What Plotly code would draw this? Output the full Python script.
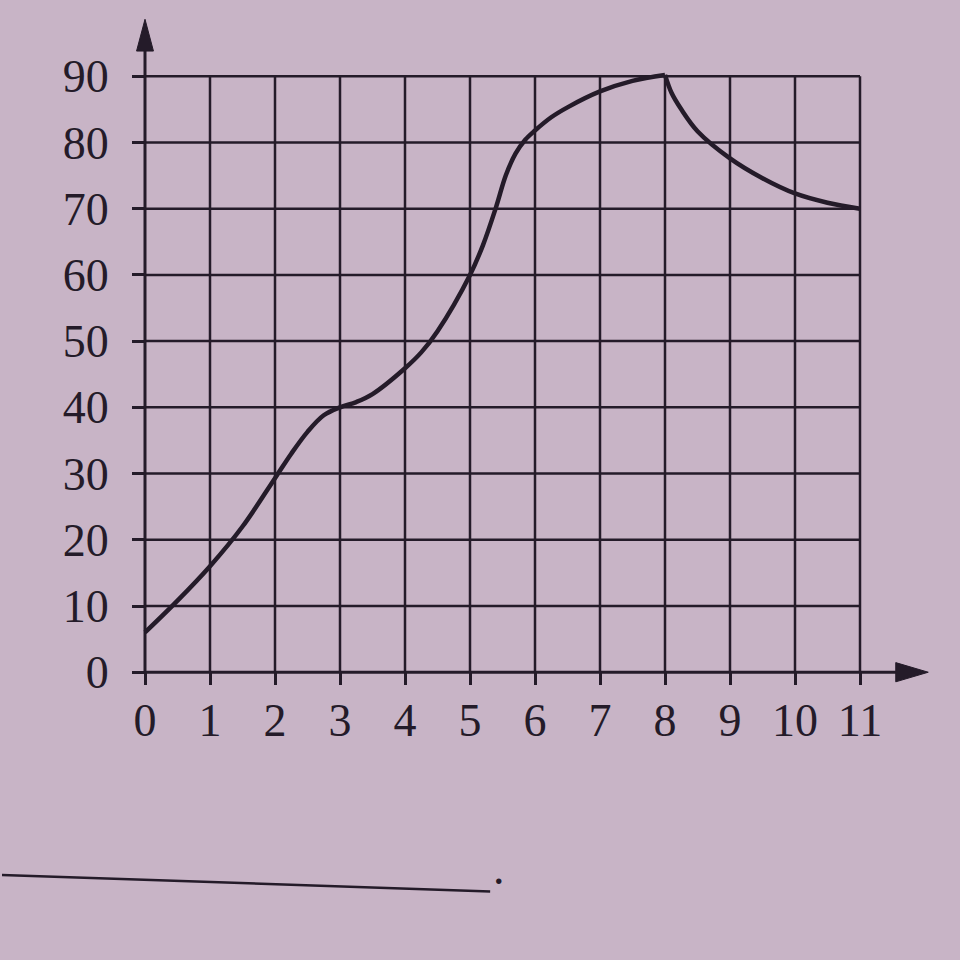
import plotly.graph_objects as go

# ---- data ----
x_rise = [0, 0.5, 1, 1.5, 2, 2.25, 2.5, 2.75, 3, 3.25, 3.5, 4, 4.25, 4.5, 5, 5.2, 5.4, 5.55, 5.7, 5.85, 6, 6.25, 6.5, 7, 7.5, 8]
y_rise = [6, 10.8, 16, 22, 29.3, 33, 36.3, 38.8, 40, 40.8, 42, 45.9, 48.3, 51.5, 60, 64.5, 70.2, 75.0, 78.3, 80.4, 81.8, 83.8, 85.3, 87.7, 89.3, 90.2]
x_fall = [8, 8.1, 8.25, 8.5, 9, 9.5, 10, 10.5, 11]
y_fall = [90.2, 87.5, 85.0, 81.7, 77.6, 74.6, 72.3, 70.9, 70]
x_ticks = list(range(0, 12))
y_ticks = list(range(0, 100, 10))
x_tick_labels = [str(v) for v in x_ticks]
y_tick_labels = [str(v) for v in y_ticks]

# ---- layout constants ----
X_RANGE = [-2.2, 12.4]
Y_RANGE = [-35, 100]
INK = "#241b29"
BG = "#c8b4c6"
FONT = "Liberation Serif"

fig = go.Figure()

fig.add_trace(go.Scatter(x=x_rise, y=y_rise, mode="lines", line=dict(color=INK, width=4.5, shape="spline", smoothing=1),
                         hoverinfo="skip", showlegend=False))
fig.add_trace(go.Scatter(x=x_fall, y=y_fall, mode="lines", line=dict(color=INK, width=4.5, shape="spline", smoothing=1),
                         hoverinfo="skip", showlegend=False))

shapes = []
xmax, ymax = x_ticks[-1], y_ticks[-1]
# grid
for xv in x_ticks[1:]:
    shapes.append(dict(type="line", x0=xv, x1=xv, y0=0, y1=ymax, line=dict(color=INK, width=2.5), layer="below"))
for yv in y_ticks[1:]:
    shapes.append(dict(type="line", x0=0, x1=xmax, y0=yv, y1=yv, line=dict(color=INK, width=2.5), layer="below"))
# axes with arrows
y_tip = 98.6
x_tip = 12.05
shapes.append(dict(type="line", x0=0, x1=0, y0=0, y1=y_tip - 3, line=dict(color=INK, width=3)))
shapes.append(dict(type="line", x0=0, x1=x_tip - 0.3, y0=0, y1=0, line=dict(color=INK, width=3)))
shapes.append(dict(type="path", path=f"M -0.13 {y_tip-4.8} L 0 {y_tip} L 0.13 {y_tip-4.8} Z",
                   fillcolor=INK, line=dict(color=INK, width=1)))
shapes.append(dict(type="path", path=f"M {x_tip-0.5} 1.45 L {x_tip} 0 L {x_tip-0.5} -1.45 Z",
                   fillcolor=INK, line=dict(color=INK, width=1)))
# answer line at the bottom
shapes.append(dict(type="line", x0=-2.25, x1=5.31, y0=-30.6, y1=-33.1, line=dict(color=INK, width=2.5)))

fig.update_layout(
    width=960, height=960,
    margin=dict(l=2, r=9, t=10, b=56),
    paper_bgcolor=BG, plot_bgcolor=BG,
    shapes=shapes,
    font=dict(family=FONT, color=INK, size=46),
    xaxis=dict(range=X_RANGE, showgrid=False, zeroline=False, showline=False,
               tickmode="array", tickvals=x_ticks, ticktext=x_tick_labels,
               ticks="outside", ticklen=12, tickwidth=2.5, tickcolor=INK,
               anchor="free", position=(0 - Y_RANGE[0]) / (Y_RANGE[1] - Y_RANGE[0]),
               ticklabelstandoff=-4, fixedrange=True),
    yaxis=dict(range=Y_RANGE, showgrid=False, zeroline=False, showline=False,
               tickmode="array", tickvals=y_ticks, ticktext=y_tick_labels,
               ticks="outside", ticklen=13, tickwidth=2.5, tickcolor=INK,
               anchor="free", position=(0 - X_RANGE[0]) / (X_RANGE[1] - X_RANGE[0]),
               ticklabelstandoff=14, fixedrange=True),
)

fig.add_annotation(x=5.33, y=-33.8, text=".", showarrow=False, xanchor="left", yanchor="bottom",
                   font=dict(family=FONT, size=46, color=INK))

fig.write_html("out.html",
               config={"displayModeBar": False},
               post_script="document.body.style.margin='0';document.body.style.background='#c8b4c6';")
